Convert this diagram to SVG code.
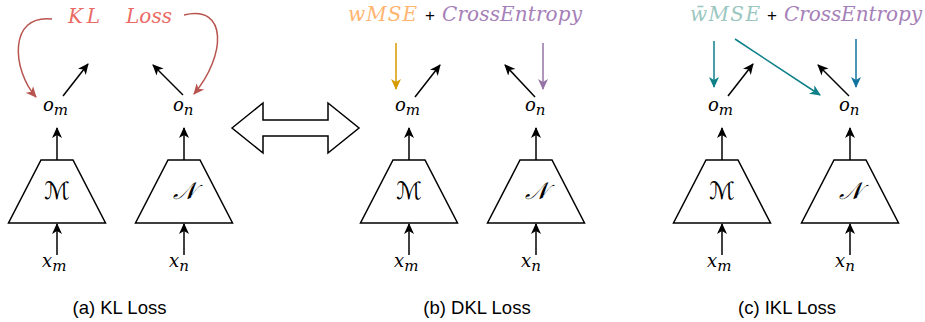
<svg xmlns="http://www.w3.org/2000/svg" width="925" height="322" viewBox="0 0 925 322">
<style>
.trap{fill:#fff;stroke:#000;stroke-width:1.5}
.mi{font-family:"DejaVu Serif","Liberation Serif",serif;font-style:italic;font-size:18px;fill:#000}
.sub{font-size:15px}
.cal{font-family:"DejaVu Serif","DejaVu Sans",serif;font-style:italic;font-size:24px;text-anchor:middle;fill:#000}
.cap{font-family:"Liberation Sans",Arial,sans-serif;font-size:18.5px;text-anchor:middle;fill:#000}
.big{font-family:"DejaVu Serif","Liberation Serif",serif;font-style:italic;font-size:20px}
.plus{font-family:"Liberation Sans",Arial,sans-serif;font-size:17px;fill:#000}
.k{fill:none;stroke:#000;stroke-width:1.5;marker-end:url(#ak)}
.red{fill:none;stroke:#B85450;stroke-width:1.5;marker-end:url(#ar)}
.org{fill:none;stroke:#D79B00;stroke-width:1.5;marker-end:url(#ao)}
.pur{fill:none;stroke:#9673A6;stroke-width:1.5;marker-end:url(#ap)}
.tea{fill:none;stroke:#0E8088;stroke-width:1.5;marker-end:url(#at)}
.blu{fill:none;stroke:#10739E;stroke-width:1.5;marker-end:url(#ab)}
</style>
<defs>
<marker id="ak" markerUnits="userSpaceOnUse" markerWidth="12" markerHeight="12" viewBox="0 0 12 12" refX="10" refY="6" orient="auto"><path d="M0,1 L11,6 L0,11 L3,6 z" fill="#000"/></marker>
<marker id="ar" markerUnits="userSpaceOnUse" markerWidth="12" markerHeight="12" viewBox="0 0 12 12" refX="10" refY="6" orient="auto"><path d="M0,1 L11,6 L0,11 L3,6 z" fill="#B85450"/></marker>
<marker id="ao" markerUnits="userSpaceOnUse" markerWidth="12" markerHeight="12" viewBox="0 0 12 12" refX="10" refY="6" orient="auto"><path d="M0,1 L11,6 L0,11 L3,6 z" fill="#D79B00"/></marker>
<marker id="ap" markerUnits="userSpaceOnUse" markerWidth="12" markerHeight="12" viewBox="0 0 12 12" refX="10" refY="6" orient="auto"><path d="M0,1 L11,6 L0,11 L3,6 z" fill="#9673A6"/></marker>
<marker id="at" markerUnits="userSpaceOnUse" markerWidth="12" markerHeight="12" viewBox="0 0 12 12" refX="10" refY="6" orient="auto"><path d="M0,1 L11,6 L0,11 L3,6 z" fill="#0E8088"/></marker>
<marker id="ab" markerUnits="userSpaceOnUse" markerWidth="12" markerHeight="12" viewBox="0 0 12 12" refX="10" refY="6" orient="auto"><path d="M0,1 L11,6 L0,11 L3,6 z" fill="#10739E"/></marker>
</defs>

<!-- Panel (a) -->
<g id="a-loss">
<text class="big" x="68" y="23" fill="#EA6B66" textLength="32" lengthAdjust="spacing">KL</text>
<text class="big" x="126" y="23" fill="#EA6B66" textLength="46" lengthAdjust="spacing">Loss</text>
</g>
<g id="a-M"><polygon class="trap" points="41,160 73,160 105.5,223 8.5,223"/><text class="cal" x="57" y="199">ℳ</text></g>
<g id="a-N"><polygon class="trap" points="168,160 200,160 232.5,223 135.5,223"/><text class="cal" x="184" y="199">𝒩</text></g>
<g id="a-om"><text class="mi" x="43" y="111">o<tspan class="sub" dy="4">m</tspan></text></g>
<g id="a-on"><text class="mi" x="173" y="111">o<tspan class="sub" dy="4">n</tspan></text></g>
<g id="a-xm"><text class="mi" x="42" y="267">x<tspan class="sub" dy="4">m</tspan></text></g>
<g id="a-xn"><text class="mi" x="169" y="267">x<tspan class="sub" dy="4">n</tspan></text></g>
<g id="a-cap"><text class="cap" x="119.5" y="314">(a) KL Loss</text></g>

<!-- Double arrow -->
<g id="double-arrow"><polygon points="232,128 263,103 263,120 328,120 328,103 359,128 328,153 328,136 263,136 263,153" fill="#fff" stroke="#000" stroke-width="1.5"/></g>

<!-- Panel (b) -->
<g id="b-loss">
<text class="big" x="348" y="21" fill="#FFB570" textLength="69" lengthAdjust="spacing">wMSE</text>
<text class="plus" x="425" y="21">+</text>
<text class="big" x="442" y="21" fill="#A680B8" textLength="140" lengthAdjust="spacing">CrossEntropy</text>
</g>
<g id="b-M"><polygon class="trap" points="393,160 425,160 457.5,223 360.5,223"/><text class="cal" x="409" y="199">ℳ</text></g>
<g id="b-N"><polygon class="trap" points="520,160 552,160 584.5,223 487.5,223"/><text class="cal" x="536" y="199">𝒩</text></g>
<g id="b-om"><text class="mi" x="395" y="111">o<tspan class="sub" dy="4">m</tspan></text></g>
<g id="b-on"><text class="mi" x="525" y="111">o<tspan class="sub" dy="4">n</tspan></text></g>
<g id="b-xm"><text class="mi" x="394" y="267">x<tspan class="sub" dy="4">m</tspan></text></g>
<g id="b-xn"><text class="mi" x="521" y="267">x<tspan class="sub" dy="4">n</tspan></text></g>
<g id="b-cap"><text class="cap" x="477" y="314">(b) DKL Loss</text></g>

<!-- Panel (c) -->
<g id="c-loss">
<text class="big" x="690" y="21" fill="#9AC7BF" textLength="70" lengthAdjust="spacing">w̄MSE</text>
<text class="plus" x="767" y="21">+</text>
<text class="big" x="784" y="21" fill="#A680B8" textLength="138" lengthAdjust="spacing">CrossEntropy</text>
</g>
<g id="c-M"><polygon class="trap" points="706,160 738,160 770.5,223 673.5,223"/><text class="cal" x="722" y="199">ℳ</text></g>
<g id="c-N"><polygon class="trap" points="834,160 866,160 898.5,223 801.5,223"/><text class="cal" x="850" y="199">𝒩</text></g>
<g id="c-om"><text class="mi" x="708" y="111">o<tspan class="sub" dy="4">m</tspan></text></g>
<g id="c-on"><text class="mi" x="839" y="111">o<tspan class="sub" dy="4">n</tspan></text></g>
<g id="c-xm"><text class="mi" x="707" y="267">x<tspan class="sub" dy="4">m</tspan></text></g>
<g id="c-xn"><text class="mi" x="835" y="267">x<tspan class="sub" dy="4">n</tspan></text></g>
<g id="c-cap"><text class="cap" x="787" y="314">(c) IKL Loss</text></g>

<!-- Connectors -->
<g id="connectors">
<!-- (a) -->
<path class="red" d="M52,19 C8,14 12,70 36,97"/>
<path class="red" d="M184,15 C228,4 226,56 194,94"/>
<line class="k" x1="63" y1="96" x2="88" y2="64"/>
<line class="k" x1="183" y1="95" x2="153" y2="65"/>
<line class="k" x1="57" y1="160" x2="57" y2="128"/>
<line class="k" x1="184" y1="160" x2="184" y2="128"/>
<line class="k" x1="57" y1="255" x2="57" y2="224"/>
<line class="k" x1="184" y1="255" x2="184" y2="224"/>
<!-- (b) -->
<line class="org" x1="396" y1="43" x2="396" y2="89"/>
<line class="pur" x1="543" y1="43" x2="543" y2="89"/>
<line class="k" x1="415" y1="97" x2="440" y2="65"/>
<line class="k" x1="535" y1="97" x2="505" y2="65"/>
<line class="k" x1="409" y1="160" x2="409" y2="128"/>
<line class="k" x1="536" y1="160" x2="536" y2="128"/>
<line class="k" x1="409" y1="255" x2="409" y2="224"/>
<line class="k" x1="536" y1="255" x2="536" y2="224"/>
<!-- (c) -->
<line class="tea" x1="714" y1="41" x2="714" y2="87"/>
<line class="tea" x1="735" y1="39" x2="820" y2="95"/>
<line class="blu" x1="856" y1="39" x2="856" y2="87"/>
<line class="k" x1="728" y1="96" x2="753" y2="64"/>
<line class="k" x1="849" y1="96" x2="818" y2="65"/>
<line class="k" x1="722" y1="160" x2="722" y2="128"/>
<line class="k" x1="850" y1="160" x2="850" y2="128"/>
<line class="k" x1="722" y1="255" x2="722" y2="224"/>
<line class="k" x1="850" y1="255" x2="850" y2="224"/>
</g>
</svg>
